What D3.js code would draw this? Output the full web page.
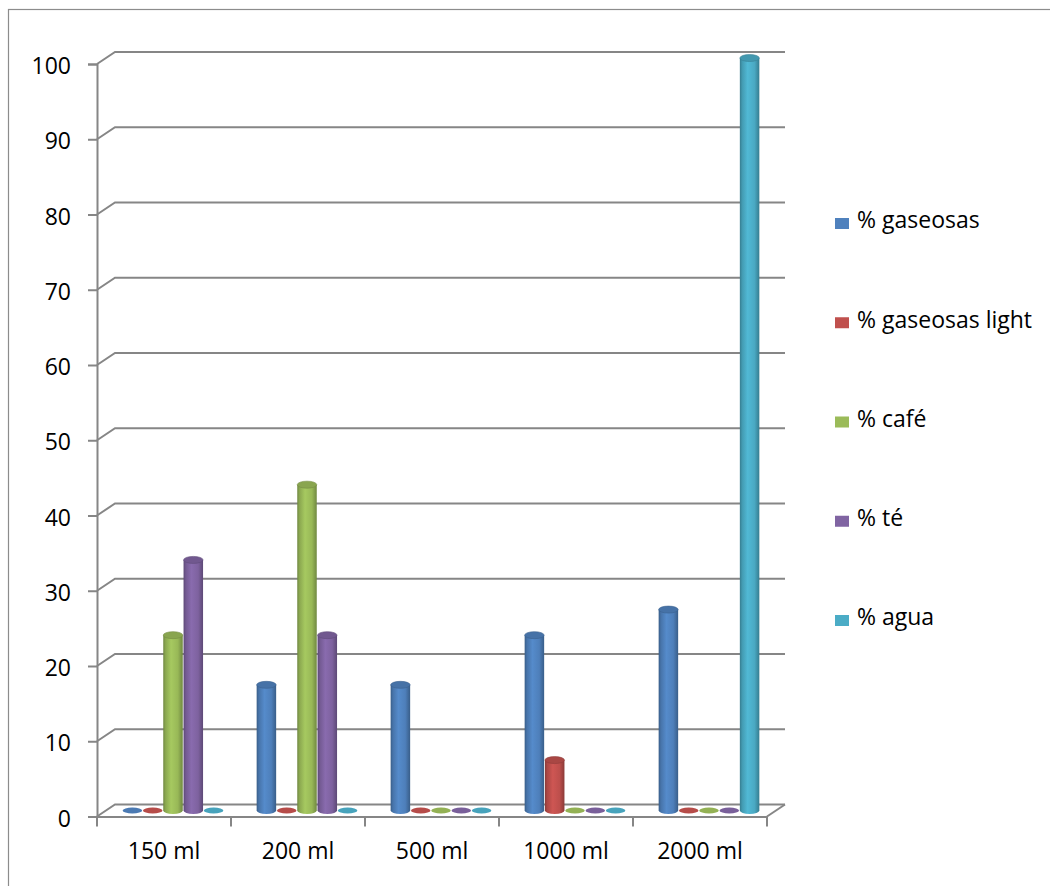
<!DOCTYPE html>
<html>
<head>
<meta charset="utf-8">
<script src="https://cdn.jsdelivr.net/npm/d3@7"></script>
<style>
  body { margin: 0; background: #fff; }
  svg { display: block; }
  text { font-family: "Open Sans", "Liberation Sans", sans-serif; fill: #000; }
</style>
</head>
<body>
<svg id="chart" width="1050" height="886"></svg>
<script>
const categories = ["150 ml", "200 ml", "500 ml", "1000 ml", "2000 ml"];
const seriesNames = ["% gaseosas", "% gaseosas light", "% café", "% té", "% agua"];
const seriesColors = ["#4F81BD", "#C0504D", "#9BBB59", "#8064A2", "#4BACC6"];
const gaseosas      = [0, 16.7, 16.7, 23.3, 26.7];
const gaseosasLight = [0, 0, 0, 6.7, 0];
const cafe          = [23.3, 43.3, 0, 0, 0];
const te            = [33.3, 23.3, 0, 0, 0];
const agua          = [0, 0, 0, 0, 100];
const yTicks = [0, 10, 20, 30, 40, 50, 60, 70, 80, 90, 100];

const seriesValues = [gaseosas, gaseosasLight, cafe, te, agua];
const FS = 23;

const svg = d3.select("#chart");
const defs = svg.append("defs");

// chart frame
svg.append("rect").attr("x", 8.5).attr("y", 9.5).attr("width", 1100).attr("height", 1000)
  .attr("fill", "none").attr("stroke", "#8c8c8c").attr("stroke-width", 1.2);

const x = d3.scaleBand().domain(categories).range([97, 767]);
const y = d3.scaleLinear().domain([0, 100]).range([816.5, 64]);
const depthX = 18, depthY = -12;
const inner = d3.scaleBand().domain(seriesNames).range([-50.75, 50.75]);
const barW = 19.5;

const grid = svg.append("g").attr("stroke", "#868686").attr("stroke-width", 2).attr("fill", "none");
// back wall gridlines + left wall connectors
yTicks.forEach(t => {
  const yy = y(t);
  grid.append("path").attr("d", `M${x.range()[0]},${yy} L${x.range()[0] + depthX},${yy + depthY} L${x.range()[1] + depthX},${yy + depthY}`);
});
// floor right edge
grid.append("path").attr("d", `M${x.range()[1]},${y(0)} L${x.range()[1] + depthX},${y(0) + depthY}`);

// y axis
const yAxis = d3.axisLeft(y).tickValues(yTicks).tickSize(9).tickPadding(17).tickFormat(d3.format("d"));
const gy = svg.append("g").attr("transform", `translate(${x.range()[0]},0)`).call(yAxis);
gy.select(".domain").attr("stroke", "#868686").attr("stroke-width", 2);
gy.selectAll(".tick line").attr("stroke", "#868686").attr("stroke-width", 2);
gy.selectAll(".tick text").attr("font-size", FS).attr("font-family", "Open Sans").attr("fill", "#000").attr("dy", "0.42em");

// x axis
const xAxis = d3.axisBottom(x).tickSizeOuter(0).tickSizeInner(0).tickPadding(26);
const gx = svg.append("g").attr("transform", `translate(0,${y(0)})`).call(xAxis);
gx.select(".domain").attr("stroke", "#868686").attr("stroke-width", 2);
gx.selectAll(".tick text").attr("font-size", FS).attr("font-family", "Open Sans").attr("fill", "#000");
// category boundary ticks
const bounds = categories.map(c => x(c)).concat([x.range()[1]]);
gx.selectAll(".btick").data(bounds).enter().append("line")
  .attr("x1", d => d).attr("x2", d => d).attr("y1", 0).attr("y2", 10)
  .attr("stroke", "#868686").attr("stroke-width", 2);

// gradients
seriesColors.forEach((c, i) => {
  const base = d3.color(c);
  const g = defs.append("linearGradient").attr("id", "grad" + i).attr("x1", "0").attr("x2", "1").attr("y1", "0").attr("y2", "0");
  g.append("stop").attr("offset", "0%").attr("stop-color", base.darker(0.9));
  g.append("stop").attr("offset", "12%").attr("stop-color", base.darker(0.3));
  g.append("stop").attr("offset", "40%").attr("stop-color", base.brighter(0.2));
  g.append("stop").attr("offset", "75%").attr("stop-color", base.darker(0.05));
  g.append("stop").attr("offset", "100%").attr("stop-color", base.darker(0.9));
});

// bars (cylinders)
const barsG = svg.append("g");
const ry = 3.5;
categories.forEach((cat, ci) => {
  seriesNames.forEach((s, si) => {
    const v = seriesValues[si][ci];
    const cx = x(cat) + x.bandwidth() / 2 + depthX / 2 + inner(s) + inner.bandwidth() / 2;
    const base = y(0) + depthY / 2;
    const top = y(v) + depthY / 2;
    const col = d3.color(seriesColors[si]);
    const g = barsG.append("g");
    if (v > 0) {
      g.append("path")
        .attr("d", `M${cx - barW / 2},${top} L${cx - barW / 2},${base} A${barW / 2},${ry} 0 0 0 ${cx + barW / 2},${base} L${cx + barW / 2},${top} Z`)
        .attr("fill", `url(#grad${si})`);
      g.append("ellipse").attr("cx", cx).attr("cy", top).attr("rx", barW / 2).attr("ry", ry)
        .attr("fill", col.darker(0.35)).attr("stroke", col.darker(0.8)).attr("stroke-width", 0.6);
    } else {
      g.append("ellipse").attr("cx", cx).attr("cy", base).attr("rx", barW / 2).attr("ry", 3)
        .attr("fill", col.darker(0.15));
    }
  });
});

// legend
const legend = svg.append("g");
const legendY = d3.scalePoint().domain(seriesNames).range([221, 618]);
seriesNames.forEach((s, i) => {
  const ly = legendY(s);
  legend.append("rect").attr("x", 835).attr("y", ly - 3).attr("width", 14).attr("height", 11).attr("fill", seriesColors[i]);
  legend.append("text").attr("x", 857).attr("y", ly).attr("dy", "0.32em").attr("font-size", FS).text(s);
});
</script>
</body>
</html>
